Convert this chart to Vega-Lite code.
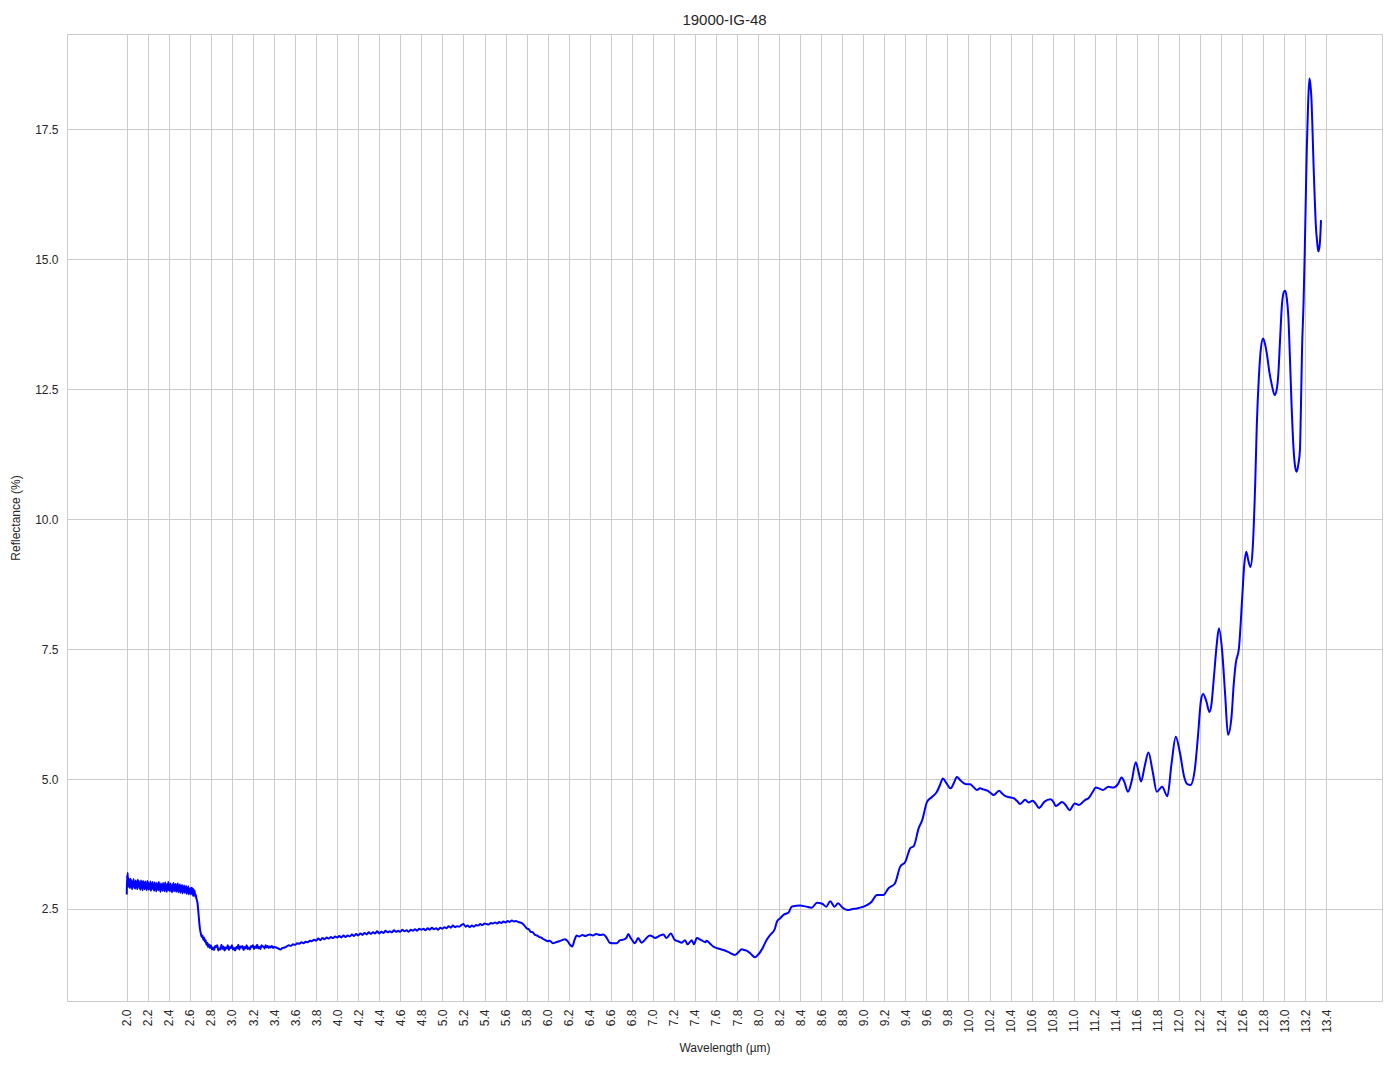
{
  "$schema": "https://vega.github.io/schema/vega-lite/v6.json",
  "width": 1315,
  "height": 967,
  "autosize": {"type": "none"},
  "padding": {"left": 67, "top": 34, "right": 12, "bottom": 68},
  "background": "white",
  "config": {
    "font": "Liberation Sans",
    "view": {"stroke": "#cccccc", "strokeWidth": 1},
    "axis": {
      "domain": false,
      "ticks": false,
      "grid": true,
      "gridColor": "#cccccc",
      "gridWidth": 1,
      "labelColor": "#262626",
      "labelFontSize": 12,
      "titleColor": "#262626",
      "titleFontSize": 12,
      "titleFontWeight": "normal"
    },
    "title": {"fontSize": 15, "fontWeight": "normal", "color": "#262626", "offset": 6}
  },
  "title": {"text": "19000-IG-48", "anchor": "middle"},
  "data": {
    "values": [
      {"x":2.000,"y":2.78},{"x":2.003,"y":3.15},{"x":2.006,"y":3.02},{"x":2.009,"y":3.19},{"x":2.012,"y":2.92},{"x":2.015,"y":3.10},
      {"x":2.02,"y":2.96},{"x":2.025,"y":3.06},{"x":2.03,"y":2.90},{"x":2.035,"y":3.08},{"x":2.04,"y":2.95},{"x":2.045,"y":3.05},
      {"x":2.05,"y":2.88},{"x":2.055,"y":3.02},{"x":2.06,"y":2.97},{"x":2.065,"y":3.07},{"x":2.07,"y":2.91},{"x":2.075,"y":2.95},
      {"x":2.08,"y":2.89},{"x":2.085,"y":3.05},{"x":2.09,"y":2.94},{"x":2.095,"y":3.01},{"x":2.10,"y":2.88},{"x":2.105,"y":3.06},
      {"x":2.11,"y":2.99},{"x":2.115,"y":3.04},{"x":2.12,"y":2.90},{"x":2.125,"y":2.93},{"x":2.13,"y":2.87},{"x":2.135,"y":3.05},
      {"x":2.14,"y":2.93},{"x":2.145,"y":3.02},{"x":2.15,"y":2.86},{"x":2.155,"y":3.04},{"x":2.16,"y":2.97},{"x":2.165,"y":2.99},
      {"x":2.17,"y":2.88},{"x":2.175,"y":3.03},{"x":2.18,"y":2.92},{"x":2.185,"y":2.97},{"x":2.19,"y":2.86},{"x":2.195,"y":3.04},
      {"x":2.20,"y":2.90},{"x":2.205,"y":3.01},{"x":2.21,"y":2.87},{"x":2.215,"y":2.93},{"x":2.22,"y":2.92},{"x":2.225,"y":3.03},
      {"x":2.23,"y":2.85},{"x":2.235,"y":2.98},{"x":2.24,"y":2.90},{"x":2.245,"y":3.02},{"x":2.25,"y":2.88},{"x":2.255,"y":2.96},
      {"x":2.26,"y":2.85},{"x":2.265,"y":3.01},{"x":2.27,"y":2.95},{"x":2.275,"y":2.97},{"x":2.28,"y":2.84},{"x":2.285,"y":3.00},
      {"x":2.29,"y":2.89},{"x":2.295,"y":2.96},{"x":2.30,"y":2.86},{"x":2.305,"y":3.02},{"x":2.31,"y":2.88},{"x":2.315,"y":2.95},
      {"x":2.32,"y":2.83},{"x":2.325,"y":2.99},{"x":2.33,"y":2.90},{"x":2.335,"y":2.96},{"x":2.34,"y":2.85},{"x":2.345,"y":3.00},
      {"x":2.35,"y":2.92},{"x":2.355,"y":2.94},{"x":2.36,"y":2.84},{"x":2.365,"y":3.01},{"x":2.37,"y":2.89},{"x":2.375,"y":2.95},
      {"x":2.38,"y":2.83},{"x":2.385,"y":2.98},{"x":2.39,"y":2.87},{"x":2.395,"y":3.02},{"x":2.40,"y":2.86},{"x":2.405,"y":2.96},
      {"x":2.41,"y":2.84},{"x":2.415,"y":2.99},{"x":2.42,"y":2.93},{"x":2.425,"y":2.94},{"x":2.43,"y":2.82},{"x":2.435,"y":2.97},
      {"x":2.44,"y":2.89},{"x":2.445,"y":3.00},{"x":2.45,"y":2.84},{"x":2.455,"y":2.95},{"x":2.46,"y":2.86},{"x":2.465,"y":2.98},
      {"x":2.47,"y":2.83},{"x":2.475,"y":2.94},{"x":2.48,"y":2.87},{"x":2.485,"y":2.99},{"x":2.49,"y":2.82},{"x":2.495,"y":2.93},
      {"x":2.50,"y":2.86},{"x":2.505,"y":2.97},{"x":2.51,"y":2.81},{"x":2.515,"y":2.93},{"x":2.52,"y":2.85},{"x":2.525,"y":2.96},
      {"x":2.53,"y":2.80},{"x":2.535,"y":2.92},{"x":2.54,"y":2.84},{"x":2.545,"y":2.95},{"x":2.55,"y":2.81},{"x":2.555,"y":2.91},
      {"x":2.56,"y":2.83},{"x":2.565,"y":2.94},{"x":2.57,"y":2.79},{"x":2.575,"y":2.90},{"x":2.58,"y":2.82},{"x":2.585,"y":2.93},
      {"x":2.59,"y":2.78},{"x":2.595,"y":2.89},{"x":2.60,"y":2.81},{"x":2.605,"y":2.90},{"x":2.61,"y":2.78},{"x":2.615,"y":2.91},
      {"x":2.62,"y":2.80},{"x":2.625,"y":2.90},{"x":2.63,"y":2.75},{"x":2.635,"y":2.88},{"x":2.64,"y":2.77},{"x":2.645,"y":2.85},
      {"x":2.65,"y":2.74},{"x":2.655,"y":2.78},{"x":2.66,"y":2.72},{"x":2.665,"y":2.68},{"x":2.672,"y":2.62},{"x":2.678,"y":2.50},
      {"x":2.684,"y":2.36},{"x":2.69,"y":2.22},{"x":2.697,"y":2.10},{"x":2.705,"y":2.02},{"x":2.712,"y":1.96},{"x":2.72,"y":1.99},
      {"x":2.727,"y":1.91},{"x":2.735,"y":1.95},{"x":2.742,"y":1.87},{"x":2.75,"y":1.90},{"x":2.757,"y":1.81},{"x":2.765,"y":1.85},
      {"x":2.772,"y":1.77},{"x":2.78,"y":1.82},{"x":2.79,"y":1.75},
      {"x":2.80,"y":1.80},{"x":2.81,"y":1.72},{"x":2.82,"y":1.76},{"x":2.83,"y":1.71},{"x":2.84,"y":1.79},{"x":2.85,"y":1.77},
      {"x":2.86,"y":1.80},{"x":2.87,"y":1.70},{"x":2.88,"y":1.74},{"x":2.89,"y":1.72},{"x":2.90,"y":1.81},{"x":2.91,"y":1.73},
      {"x":2.92,"y":1.78},{"x":2.93,"y":1.70},{"x":2.94,"y":1.76},{"x":2.95,"y":1.74},{"x":2.96,"y":1.80},{"x":2.97,"y":1.71},
      {"x":2.98,"y":1.77},{"x":2.99,"y":1.75},{"x":3.00,"y":1.80},{"x":3.01,"y":1.72},{"x":3.02,"y":1.75},{"x":3.03,"y":1.70},
      {"x":3.04,"y":1.77},{"x":3.05,"y":1.74},{"x":3.06,"y":1.81},{"x":3.07,"y":1.72},{"x":3.08,"y":1.78},{"x":3.09,"y":1.76},
      {"x":3.10,"y":1.79},{"x":3.11,"y":1.71},{"x":3.12,"y":1.77},{"x":3.13,"y":1.74},{"x":3.14,"y":1.80},{"x":3.15,"y":1.73},
      {"x":3.16,"y":1.76},{"x":3.17,"y":1.72},{"x":3.18,"y":1.79},{"x":3.19,"y":1.77},{"x":3.20,"y":1.80},{"x":3.21,"y":1.73},
      {"x":3.22,"y":1.78},{"x":3.23,"y":1.75},{"x":3.24,"y":1.81},{"x":3.25,"y":1.74},{"x":3.26,"y":1.77},{"x":3.27,"y":1.73},
      {"x":3.28,"y":1.80},{"x":3.29,"y":1.78},{"x":3.30,"y":1.78},{"x":3.31,"y":1.74},{"x":3.32,"y":1.80},{"x":3.33,"y":1.76},
      {"x":3.34,"y":1.79},{"x":3.35,"y":1.75},{"x":3.36,"y":1.78},{"x":3.37,"y":1.76},{"x":3.38,"y":1.79},{"x":3.39,"y":1.75},
      {"x":3.40,"y":1.77},{"x":3.42,"y":1.76},{"x":3.44,"y":1.74},{"x":3.46,"y":1.72},{"x":3.48,"y":1.75},{"x":3.50,"y":1.76},
      {"x":3.52,"y":1.78},{"x":3.54,"y":1.80},{"x":3.56,"y":1.79},{"x":3.58,"y":1.82},{"x":3.60,"y":1.81},{"x":3.62,"y":1.84},
      {"x":3.64,"y":1.83},{"x":3.66,"y":1.86},{"x":3.68,"y":1.84},{"x":3.70,"y":1.87},{"x":3.72,"y":1.86},{"x":3.74,"y":1.89},
      {"x":3.76,"y":1.88},{"x":3.78,"y":1.91},{"x":3.80,"y":1.89},{"x":3.82,"y":1.93},{"x":3.84,"y":1.90},{"x":3.86,"y":1.94},
      {"x":3.88,"y":1.92},{"x":3.90,"y":1.95},{"x":3.92,"y":1.93},{"x":3.94,"y":1.96},{"x":3.96,"y":1.94},{"x":3.98,"y":1.97},
      {"x":4.00,"y":1.95},{"x":4.02,"y":1.98},{"x":4.04,"y":1.95},{"x":4.06,"y":1.99},{"x":4.08,"y":1.96},{"x":4.10,"y":1.99},
      {"x":4.12,"y":1.97},{"x":4.14,"y":2.01},{"x":4.16,"y":1.98},{"x":4.18,"y":2.02},{"x":4.20,"y":1.99},{"x":4.22,"y":2.03},
      {"x":4.24,"y":2.00},{"x":4.26,"y":2.04},{"x":4.28,"y":2.01},{"x":4.30,"y":2.05},{"x":4.32,"y":2.02},{"x":4.34,"y":2.05},
      {"x":4.36,"y":2.03},{"x":4.38,"y":2.07},{"x":4.40,"y":2.03},{"x":4.42,"y":2.06},{"x":4.44,"y":2.04},{"x":4.46,"y":2.08},
      {"x":4.48,"y":2.05},{"x":4.50,"y":2.07},{"x":4.52,"y":2.05},{"x":4.54,"y":2.09},{"x":4.56,"y":2.06},{"x":4.58,"y":2.08},
      {"x":4.60,"y":2.06},{"x":4.62,"y":2.10},{"x":4.64,"y":2.07},{"x":4.66,"y":2.09},{"x":4.68,"y":2.06},{"x":4.70,"y":2.10},
      {"x":4.72,"y":2.08},{"x":4.74,"y":2.11},{"x":4.76,"y":2.08},{"x":4.78,"y":2.12},{"x":4.80,"y":2.10},{"x":4.82,"y":2.12},
      {"x":4.84,"y":2.09},{"x":4.86,"y":2.13},{"x":4.88,"y":2.10},{"x":4.90,"y":2.14},{"x":4.92,"y":2.11},{"x":4.94,"y":2.13},
      {"x":4.96,"y":2.10},{"x":4.98,"y":2.14},{"x":5.00,"y":2.12},{"x":5.02,"y":2.15},{"x":5.04,"y":2.13},{"x":5.06,"y":2.17},
      {"x":5.08,"y":2.14},{"x":5.10,"y":2.18},{"x":5.12,"y":2.15},{"x":5.14,"y":2.17},{"x":5.16,"y":2.16},{"x":5.18,"y":2.19},
      {"x":5.20,"y":2.21},{"x":5.22,"y":2.16},{"x":5.24,"y":2.18},{"x":5.26,"y":2.15},{"x":5.28,"y":2.18},{"x":5.30,"y":2.16},
      {"x":5.32,"y":2.19},{"x":5.34,"y":2.18},{"x":5.36,"y":2.21},{"x":5.38,"y":2.19},{"x":5.40,"y":2.22},{"x":5.42,"y":2.21},
      {"x":5.44,"y":2.20},{"x":5.46,"y":2.23},{"x":5.48,"y":2.22},{"x":5.50,"y":2.24},{"x":5.52,"y":2.22},{"x":5.54,"y":2.25},
      {"x":5.56,"y":2.23},{"x":5.58,"y":2.26},{"x":5.60,"y":2.24},{"x":5.62,"y":2.27},{"x":5.64,"y":2.25},{"x":5.66,"y":2.28},
      {"x":5.68,"y":2.26},{"x":5.70,"y":2.27},{"x":5.72,"y":2.25},{"x":5.74,"y":2.24},{"x":5.76,"y":2.22},{"x":5.78,"y":2.18},
      {"x":5.80,"y":2.13},{"x":5.82,"y":2.11},{"x":5.84,"y":2.06},{"x":5.86,"y":2.05},{"x":5.88,"y":2.00},{"x":5.90,"y":1.99},
      {"x":5.92,"y":1.96},{"x":5.94,"y":1.95},{"x":5.96,"y":1.92},{"x":5.98,"y":1.90},{"x":6.00,"y":1.88},{"x":6.02,"y":1.89},
      {"x":6.05,"y":1.84},{"x":6.08,"y":1.86},{"x":6.11,"y":1.88},{"x":6.14,"y":1.90},{"x":6.165,"y":1.92},{"x":6.19,"y":1.88},
      {"x":6.21,"y":1.82},{"x":6.234,"y":1.78},{"x":6.255,"y":1.90},{"x":6.276,"y":1.99},{"x":6.30,"y":1.97},{"x":6.33,"y":2.00},
      {"x":6.36,"y":1.98},{"x":6.40,"y":2.01},{"x":6.43,"y":1.99},{"x":6.46,"y":2.02},{"x":6.50,"y":2.00},{"x":6.53,"y":2.01},
      {"x":6.56,"y":1.95},{"x":6.59,"y":1.85},{"x":6.62,"y":1.84},{"x":6.656,"y":1.84},{"x":6.69,"y":1.90},{"x":6.72,"y":1.91},
      {"x":6.75,"y":1.95},{"x":6.767,"y":2.02},{"x":6.79,"y":1.94},{"x":6.81,"y":1.88},{"x":6.83,"y":1.84},{"x":6.86,"y":1.94},
      {"x":6.894,"y":1.85},{"x":6.93,"y":1.92},{"x":6.97,"y":1.99},{"x":7.00,"y":1.97},{"x":7.02,"y":1.94},{"x":7.06,"y":1.98},
      {"x":7.10,"y":2.01},{"x":7.13,"y":1.94},{"x":7.17,"y":2.03},{"x":7.21,"y":1.90},{"x":7.24,"y":1.88},{"x":7.275,"y":1.85},
      {"x":7.306,"y":1.90},{"x":7.33,"y":1.82},{"x":7.37,"y":1.90},{"x":7.39,"y":1.82},{"x":7.418,"y":1.94},{"x":7.46,"y":1.90},
      {"x":7.50,"y":1.86},{"x":7.51,"y":1.89},{"x":7.55,"y":1.82},{"x":7.576,"y":1.775},{"x":7.62,"y":1.74},{"x":7.67,"y":1.71},
      {"x":7.72,"y":1.67},{"x":7.78,"y":1.615},{"x":7.81,"y":1.66},{"x":7.846,"y":1.725},{"x":7.87,"y":1.71},{"x":7.89,"y":1.70},
      {"x":7.93,"y":1.64},{"x":7.97,"y":1.57},{"x":8.00,"y":1.62},{"x":8.02,"y":1.67},{"x":8.05,"y":1.775},{"x":8.08,"y":1.90},
      {"x":8.115,"y":2.0},{"x":8.16,"y":2.12},{"x":8.18,"y":2.26},{"x":8.21,"y":2.32},{"x":8.24,"y":2.385},{"x":8.29,"y":2.43},
      {"x":8.32,"y":2.545},{"x":8.36,"y":2.56},{"x":8.40,"y":2.565},{"x":8.45,"y":2.55},{"x":8.51,"y":2.525},{"x":8.56,"y":2.62},
      {"x":8.61,"y":2.60},{"x":8.648,"y":2.545},{"x":8.686,"y":2.65},{"x":8.727,"y":2.545},{"x":8.76,"y":2.61},{"x":8.80,"y":2.53},
      {"x":8.85,"y":2.48},{"x":8.90,"y":2.50},{"x":8.94,"y":2.51},{"x":8.98,"y":2.53},{"x":9.02,"y":2.56},{"x":9.08,"y":2.64},
      {"x":9.13,"y":2.77},{"x":9.19,"y":2.77},{"x":9.24,"y":2.90},{"x":9.30,"y":2.99},{"x":9.35,"y":3.31},{"x":9.40,"y":3.41},
      {"x":9.447,"y":3.67},{"x":9.48,"y":3.71},{"x":9.526,"y":4.05},{"x":9.56,"y":4.21},{"x":9.606,"y":4.56},{"x":9.65,"y":4.65},
      {"x":9.70,"y":4.755},{"x":9.73,"y":4.89},{"x":9.757,"y":5.01},{"x":9.79,"y":4.92},{"x":9.83,"y":4.82},{"x":9.86,"y":4.92},
      {"x":9.89,"y":5.04},{"x":9.92,"y":4.98},{"x":9.954,"y":4.92},{"x":9.985,"y":4.90},{"x":10.015,"y":4.90},{"x":10.05,"y":4.84},
      {"x":10.08,"y":4.79},{"x":10.11,"y":4.82},{"x":10.14,"y":4.80},{"x":10.18,"y":4.775},{"x":10.21,"y":4.73},{"x":10.24,"y":4.69},
      {"x":10.29,"y":4.775},{"x":10.32,"y":4.72},{"x":10.35,"y":4.67},{"x":10.39,"y":4.65},{"x":10.43,"y":4.63},{"x":10.46,"y":4.58},
      {"x":10.49,"y":4.52},{"x":10.54,"y":4.60},{"x":10.57,"y":4.55},{"x":10.61,"y":4.58},{"x":10.64,"y":4.52},{"x":10.67,"y":4.44},
      {"x":10.72,"y":4.56},{"x":10.78,"y":4.61},{"x":10.81,"y":4.55},{"x":10.83,"y":4.48},{"x":10.89,"y":4.56},{"x":10.93,"y":4.48},
      {"x":10.96,"y":4.40},{"x":11.01,"y":4.53},{"x":11.05,"y":4.50},{"x":11.11,"y":4.60},{"x":11.14,"y":4.63},{"x":11.18,"y":4.75},
      {"x":11.21,"y":4.835},{"x":11.25,"y":4.81},{"x":11.28,"y":4.79},{"x":11.33,"y":4.85},{"x":11.38,"y":4.835},{"x":11.42,"y":4.90},
      {"x":11.455,"y":5.03},{"x":11.48,"y":4.95},{"x":11.515,"y":4.755},{"x":11.55,"y":4.95},{"x":11.59,"y":5.32},{"x":11.615,"y":5.15},
      {"x":11.64,"y":4.95},{"x":11.675,"y":5.25},{"x":11.71,"y":5.51},{"x":11.75,"y":5.15},{"x":11.79,"y":4.755},{"x":11.84,"y":4.85},
      {"x":11.89,"y":4.67},{"x":11.93,"y":5.30},{"x":11.97,"y":5.815},{"x":12.01,"y":5.50},{"x":12.05,"y":5.04},{"x":12.08,"y":4.90},
      {"x":12.11,"y":4.885},{"x":12.15,"y":5.17},{"x":12.18,"y":5.80},{"x":12.21,"y":6.52},{"x":12.23,"y":6.635},{"x":12.26,"y":6.50},
      {"x":12.29,"y":6.29},{"x":12.31,"y":6.45},{"x":12.33,"y":6.90},{"x":12.36,"y":7.60},{"x":12.38,"y":7.90},{"x":12.41,"y":7.48},
      {"x":12.44,"y":6.60},{"x":12.466,"y":5.85},{"x":12.50,"y":6.20},{"x":12.52,"y":6.80},{"x":12.54,"y":7.225},{"x":12.57,"y":7.51},
      {"x":12.60,"y":8.44},{"x":12.62,"y":9.10},{"x":12.64,"y":9.37},{"x":12.66,"y":9.20},{"x":12.68,"y":9.08},{"x":12.70,"y":9.40},
      {"x":12.725,"y":10.69},{"x":12.74,"y":11.80},{"x":12.76,"y":12.74},{"x":12.78,"y":13.30},{"x":12.80,"y":13.475},{"x":12.82,"y":13.35},
      {"x":12.84,"y":13.12},{"x":12.86,"y":12.82},{"x":12.88,"y":12.61},{"x":12.91,"y":12.385},{"x":12.93,"y":12.50},{"x":12.945,"y":12.80},
      {"x":12.96,"y":13.40},{"x":12.98,"y":14.15},{"x":13.00,"y":14.38},{"x":13.01,"y":14.39},{"x":13.025,"y":14.25},{"x":13.04,"y":13.89},
      {"x":13.055,"y":13.10},{"x":13.07,"y":12.225},{"x":13.09,"y":11.33},{"x":13.105,"y":11.00},{"x":13.12,"y":10.91},{"x":13.135,"y":11.05},
      {"x":13.15,"y":11.33},{"x":13.16,"y":12.20},{"x":13.17,"y":13.25},{"x":13.185,"y":14.20},{"x":13.196,"y":15.17},{"x":13.205,"y":16.10},
      {"x":13.215,"y":17.10},{"x":13.228,"y":18.00},{"x":13.24,"y":18.475},{"x":13.25,"y":18.35},{"x":13.26,"y":18.06},{"x":13.27,"y":17.45},
      {"x":13.28,"y":16.78},{"x":13.29,"y":16.20},{"x":13.30,"y":15.69},{"x":13.315,"y":15.30},{"x":13.325,"y":15.15},{"x":13.336,"y":15.24},
      {"x":13.345,"y":15.50},{"x":13.35,"y":15.75}
    ]
  },
  "mark": {"type": "line", "color": "#0000ff", "strokeWidth": 2, "clip": true, "interpolate": "monotone"},
  "encoding": {
    "x": {
      "field": "x",
      "type": "quantitative",
      "scale": {"domain": [1.432, 13.93], "nice": false, "zero": false},
      "axis": {
        "title": "Wavelength (µm)",
        "values": [2.0,2.2,2.4,2.6,2.8,3.0,3.2,3.4,3.6,3.8,4.0,4.2,4.4,4.6,4.8,5.0,5.2,5.4,5.6,5.8,6.0,6.2,6.4,6.6,6.8,7.0,7.2,7.4,7.6,7.8,8.0,8.2,8.4,8.6,8.8,9.0,9.2,9.4,9.6,9.8,10.0,10.2,10.4,10.6,10.8,11.0,11.2,11.4,11.6,11.8,12.0,12.2,12.4,12.6,12.8,13.0,13.2,13.4],
        "format": ".1f",
        "labelAngle": -90,
        "labelAlign": "right",
        "labelBaseline": "middle",
        "labelPadding": 8,
        "labelOverlap": false,
        "titlePadding": 10
      }
    },
    "y": {
      "field": "y",
      "type": "quantitative",
      "scale": {"domain": [0.73, 19.33], "nice": false, "zero": false},
      "axis": {
        "title": "Reflectance (%)",
        "values": [2.5, 5.0, 7.5, 10.0, 12.5, 15.0, 17.5],
        "format": ".1f",
        "labelPadding": 9,
        "titlePadding": 12
      }
    }
  }
}
